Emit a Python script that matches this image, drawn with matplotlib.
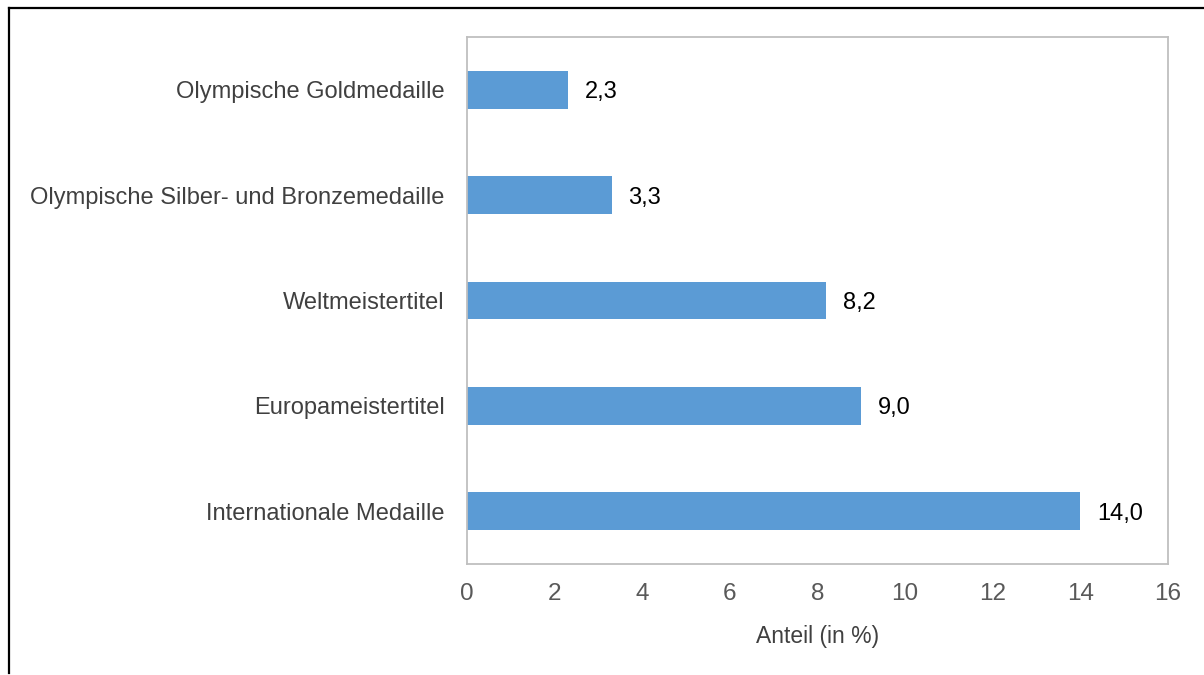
import numpy as np
import matplotlib.pyplot as plt
from matplotlib.lines import Line2D

plt.rcParams['font.family'] = ['Liberation Sans', 'DejaVu Sans']

categories = ["Olympische Goldmedaille",
              "Olympische Silber- und Bronzemedaille",
              "Weltmeistertitel",
              "Europameistertitel",
              "Internationale Medaille"]
values = [2.3, 3.3, 8.2, 9.0, 14.0]
value_labels = ["2,3", "3,3", "8,2", "9,0", "14,0"]
xticks = [0, 2, 4, 6, 8, 10, 12, 14, 16]

fig = plt.figure(figsize=(12.04, 6.75), dpi=100)
ax = fig.add_axes([467 / 1204, 1 - 564 / 675, (1168 - 467) / 1204, (564 - 37) / 675])

y = np.arange(len(categories))
ax.barh(y, values, height=0.36, color='#5B9BD5', zorder=2)
for yi, v, lab in zip(y, values, value_labels):
    ax.annotate(lab, (v, yi), xytext=(12, 0), textcoords='offset points',
                va='center_baseline', ha='left', fontsize=17, color='black')

ax.set_ylim(len(categories) - 0.5, -0.5)
ax.set_xlim(0, 16)
ax.set_yticks(y)
ax.set_yticklabels(categories, fontsize=17, color='#404040')
ax.set_xticks(xticks)
ax.set_xticklabels([str(t) for t in xticks], fontsize=17.5, color='#595959')
ax.tick_params(axis='both', length=0)
ax.tick_params(axis='y', pad=16)
ax.tick_params(axis='x', pad=14)
for s in ax.spines.values():
    s.set_color('#bfbfbf')
    s.set_linewidth(1.3)

ax.set_xlabel("Anteil (in %)", fontsize=16.5, color='#404040', labelpad=14)

# outer frame lines (left and top only)
fig.add_artist(Line2D([9 / 1204, 9 / 1204], [1 - 673 / 675, 1 - 8 / 675],
                      transform=fig.transFigure, color='black', lw=1.6))
fig.add_artist(Line2D([9 / 1204, 1.0], [1 - 8 / 675, 1 - 8 / 675],
                      transform=fig.transFigure, color='black', lw=1.6))

fig.savefig("out.png", dpi=100, facecolor='white')
